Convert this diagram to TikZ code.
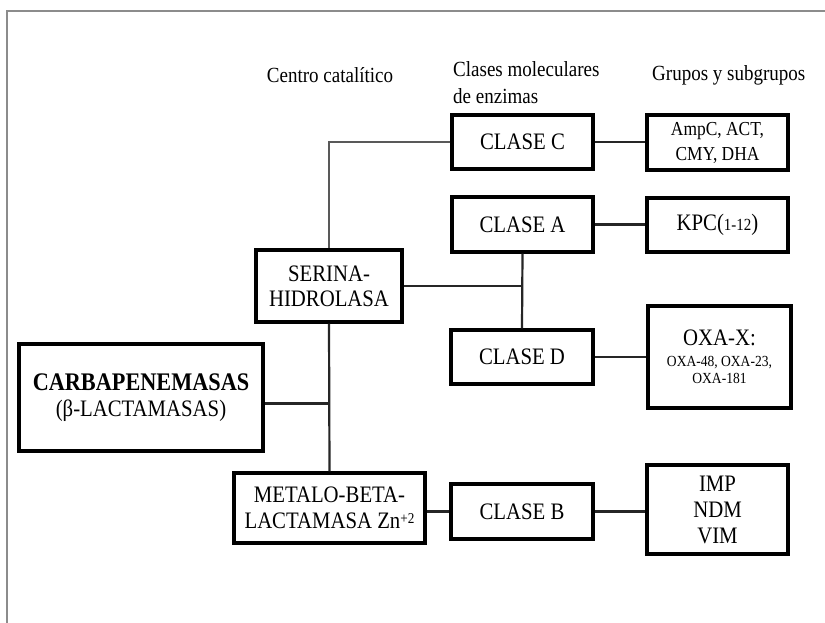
\documentclass[tikz,border=0pt]{standalone}
\usepackage{fontspec}
\setmainfont{Liberation Serif}[FakeStretch=0.88]
\begin{document}
\begin{tikzpicture}[x=1pt,y=-1pt,
  box/.style={draw=black,line width=3.4pt,rectangle,align=center,inner sep=0pt,font=\fontsize{23.6}{25}\selectfont},
  conn/.style={draw=black!85,line width=2.2pt},
  thin/.style={draw=black!65,line width=1.6pt},
  head/.style={font=\fontsize{21.6}{27}\selectfont,align=left,inner sep=0pt}]
\useasboundingbox (0,0) rectangle (825,623);
\fill[white] (0,0) rectangle (825,623);
\draw[black!45,line width=1.2pt] (825,11) -- (7,11) -- (7,623);
% headers
\node[head] (h1) at (330,75) {Centro catalítico};
\node[head,anchor=west] (h2) at (453,83) {Clases moleculares\\de enzimas};
\node[head,anchor=west] (h3) at (652,75) {Grupos y subgrupos};
% boxes
\node[box,minimum width=244pt,minimum height=107pt] (carb) at (141,397.5)
  {{\fontsize{25.3}{28}\selectfont\bfseries CARBAPENEMASAS}\\[1pt](β-LACTAMASAS)};
\node[box,minimum width=146pt,minimum height=72pt] (ser) at (329,286) {SERINA-\\HIDROLASA};
\node[box,minimum width=191pt,minimum height=70pt] (met) at (329.5,508) {METALO-BETA-\\[1pt]LACTAMASA Zn\raisebox{0.5ex}{\fontsize{15}{15}\selectfont +2}};
\node[box,minimum width=141pt,minimum height=54pt] (cc) at (522.5,142) {CLASE C};
\node[box,minimum width=141pt,minimum height=55pt] (ca) at (522.5,224.5) {CLASE A};
\node[box,minimum width=142pt,minimum height=54pt] (cd) at (522,357) {CLASE D};
\node[box,minimum width=142pt,minimum height=55pt] (cb) at (522,511.5) {CLASE B};
\node[box,minimum width=141pt,minimum height=55pt,font=\fontsize{19.8}{25}\selectfont] (g1) at (717.5,142.5) {AmpC, ACT,\\CMY, DHA};
\node[box,minimum width=141pt,minimum height=54pt] (g2) at (717.5,225) {KPC({\fontsize{17}{18}\selectfont 1-12})};
\node[box,minimum width=143pt,minimum height=102pt] (g3) at (719.5,357)
  {OXA-X:\\[-4pt]{\fontsize{15.4}{17}\selectfont OXA-48, OXA-23,}\\[-8pt]{\fontsize{15.4}{17}\selectfont OXA-181}};
\node[box,minimum width=141pt,minimum height=89pt,font=\fontsize{23.6}{26}\selectfont] (g4) at (717.5,509.5) {IMP\\NDM\\VIM};
% connectors
\draw[thin] (cc.west) -| (ser.north);
\draw[conn] (ca.south) -- (cd.north);
\draw[conn] (ser.east) -- (ser.east -| ca.south);
\draw[conn] (ser.south) -- (met.north);
\draw[conn] ([yshift=-6pt]carb.east) -- ([yshift=-6pt]carb.east -| ser.south);
\draw[conn] (cc.east) -- (cc.east -| g1.west);
\draw[conn] (ca.east) -- (ca.east -| g2.west);
\draw[conn] (cd.east) -- (cd.east -| g3.west);
\draw[conn] (cb.west -| met.east) -- (cb.west);
\draw[conn] (cb.east) -- (cb.east -| g4.west);
\end{tikzpicture}
\end{document}
